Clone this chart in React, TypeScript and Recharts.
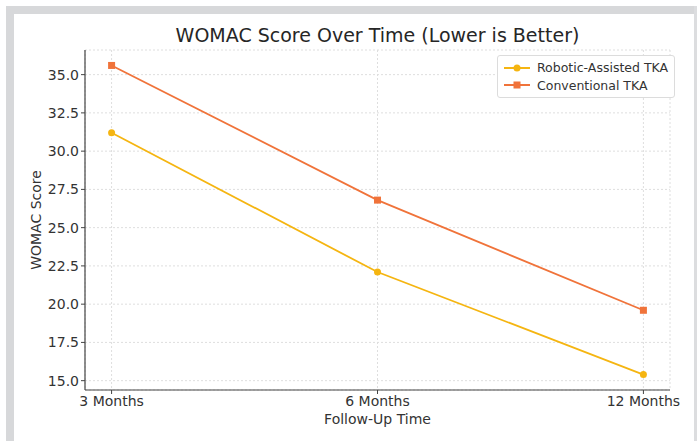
import React from 'react';
import {
  LineChart,
  Line,
  XAxis,
  YAxis,
  CartesianGrid,
} from 'recharts';

const categories = ['3 Months', '6 Months', '12 Months'];
const roboticScores = [31.2, 22.1, 15.4];
const conventionalScores = [35.6, 26.8, 19.6];
const yTicks = [15, 17.5, 20, 22.5, 25, 27.5, 30, 32.5, 35];

const ROBOTIC = '#f5b511';
const CONVENTIONAL = '#f0733a';
const FONT = '"DejaVu Sans", sans-serif';
const TEXT = '#333333';

const data = categories.map((name, i) => ({
  idx: i,
  name,
  robotic: roboticScores[i],
  conventional: conventionalScores[i],
}));

const SquareDot = (props: any) => {
  const { cx, cy } = props;
  if (cx == null || cy == null) return null;
  return <rect x={cx - 3.5} y={cy - 3.5} width={7} height={7} fill={CONVENTIONAL} />;
};

const LegendBox = () => {
  const items = [
    { label: 'Robotic-Assisted TKA', color: ROBOTIC, square: false },
    { label: 'Conventional TKA', color: CONVENTIONAL, square: true },
  ];
  return (
    <div
      style={{
        position: 'absolute',
        left: 497,
        top: 55,
        border: '1px solid #dcdcdc',
        borderRadius: 3,
        background: '#fff',
        padding: '3px 6px 3px 6px',
        fontFamily: FONT,
        fontSize: 12.5,
        color: TEXT,
        whiteSpace: 'nowrap',
      }}
    >
      {items.map((it) => (
        <div key={it.label} style={{ display: 'flex', alignItems: 'center', height: 17.5 }}>
          <svg width={26} height={10} style={{ marginRight: 7, flexShrink: 0 }}>
            <line x1={0} y1={5} x2={26} y2={5} stroke={it.color} strokeWidth={2} />
            {it.square ? (
              <rect x={9.5} y={1.5} width={7} height={7} fill={it.color} />
            ) : (
              <circle cx={13} cy={5} r={3.5} fill={it.color} />
            )}
          </svg>
          <span>{it.label}</span>
        </div>
      ))}
    </div>
  );
};

export default function App() {
  return (
    <div
      style={{
        position: 'absolute',
        left: 0,
        top: 0,
        width: 697,
        height: 441,
        background: '#ffffff',
        overflow: 'hidden',
      }}
    >
      {/* grey frame from the screenshot */}
      <div style={{ position: 'absolute', left: 6, top: 6, width: 691, height: 8, background: '#d7d8da' }} />
      <div style={{ position: 'absolute', left: 6, top: 6, width: 8, height: 435, background: '#d7d8da' }} />
      <div style={{ position: 'absolute', left: 694, top: 6, width: 3, height: 435, background: '#dcdddf' }} />

      <div
        style={{
          position: 'absolute',
          left: 85,
          width: 585,
          top: 24,
          textAlign: 'center',
          fontFamily: FONT,
          fontSize: 19,
          color: '#262626',
        }}
      >
        WOMAC Score Over Time (Lower is Better)
      </div>

      <LineChart
        width={697}
        height={441}
        data={data}
        margin={{ top: 50, right: 27, bottom: 21, left: 0 }}
        style={{ position: 'absolute', left: 0, top: 0 }}
      >
        <CartesianGrid stroke="#dedede" strokeDasharray="2 2" />
        <XAxis
          dataKey="idx"
          type="number"
          height={30}
          domain={[-0.1, 2.1]}
          ticks={[0, 1, 2]}
          tickFormatter={(v: number) => categories[v]}
          axisLine={{ stroke: '#444', strokeWidth: 1.2 }}
          tickLine={{ stroke: '#444' }}
          tickSize={4}
          tick={{ fill: TEXT, fontSize: 14, fontFamily: FONT }}
        />
        <YAxis
          type="number"
          width={85}
          domain={[14.39, 36.61]}
          ticks={yTicks}
          tickFormatter={(v: number) => v.toFixed(1)}
          axisLine={{ stroke: '#444', strokeWidth: 1.2 }}
          tickLine={{ stroke: '#444' }}
          tickSize={4}
          tick={{ fill: TEXT, fontSize: 14, fontFamily: FONT }}
        />
        <Line
          dataKey="robotic"
          name="Robotic-Assisted TKA"
          stroke={ROBOTIC}
          strokeWidth={1.8}
          dot={{ r: 3.5, fill: ROBOTIC, stroke: ROBOTIC, strokeWidth: 0 }}
          isAnimationActive={false}
        />
        <Line
          dataKey="conventional"
          name="Conventional TKA"
          stroke={CONVENTIONAL}
          strokeWidth={1.8}
          dot={<SquareDot />}
          isAnimationActive={false}
        />
      </LineChart>

      <LegendBox />

      <div
        style={{
          position: 'absolute',
          left: 85,
          width: 585,
          top: 411,
          textAlign: 'center',
          fontFamily: FONT,
          fontSize: 14,
          color: TEXT,
        }}
      >
        Follow-Up Time
      </div>
      <div
        style={{
          position: 'absolute',
          left: 36,
          top: 220,
          transform: 'translate(-50%, -50%) rotate(-90deg)',
          whiteSpace: 'nowrap',
          fontFamily: FONT,
          fontSize: 14,
          color: TEXT,
        }}
      >
        WOMAC Score
      </div>
    </div>
  );
}
